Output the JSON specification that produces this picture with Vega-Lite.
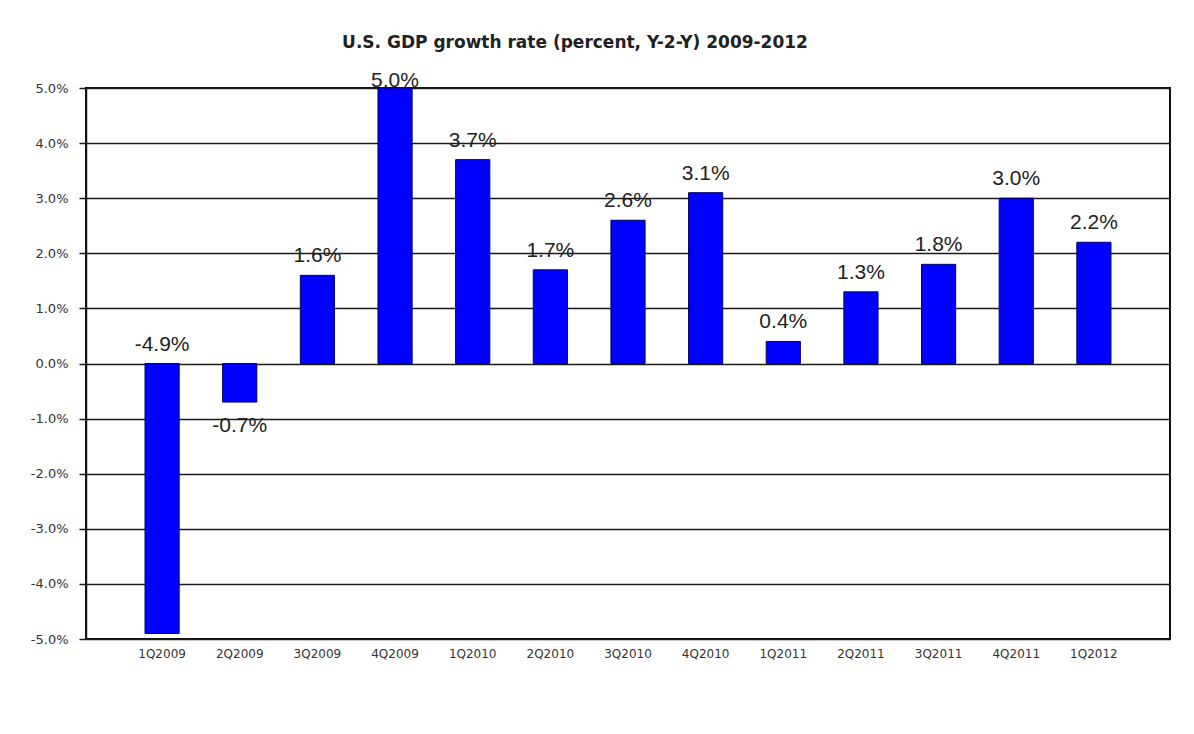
{
  "$schema": "https://vega.github.io/schema/vega-lite/v6.json",
  "autosize": "none",
  "padding": {"left": 86, "top": 88, "right": 24, "bottom": 95},
  "width": 1084,
  "height": 551,
  "background": "white",
  "title": {
    "text": "U.S. GDP growth rate (percent, Y-2-Y) 2009-2012",
    "font": "DejaVu Sans",
    "fontSize": 17,
    "fontWeight": "bold",
    "color": "#222222",
    "anchor": "middle",
    "dx": -53,
    "offset": 18
  },
  "data": {
    "values": [
      {"quarter": "1Q2009", "growth": -4.9},
      {"quarter": "2Q2009", "growth": -0.7},
      {"quarter": "3Q2009", "growth": 1.6},
      {"quarter": "4Q2009", "growth": 5.0},
      {"quarter": "1Q2010", "growth": 3.7},
      {"quarter": "2Q2010", "growth": 1.7},
      {"quarter": "3Q2010", "growth": 2.6},
      {"quarter": "4Q2010", "growth": 3.1},
      {"quarter": "1Q2011", "growth": 0.4},
      {"quarter": "2Q2011", "growth": 1.3},
      {"quarter": "3Q2011", "growth": 1.8},
      {"quarter": "4Q2011", "growth": 3.0},
      {"quarter": "1Q2012", "growth": 2.2}
    ]
  },
  "transform": [
    {"calculate": "replace(format(datum.growth, '.1f'), '\u2212', '-') + '%'", "as": "label"}
  ],
  "encoding": {
    "x": {
      "field": "quarter",
      "type": "nominal",
      "sort": null,
      "title": null,
      "scale": {"paddingInner": 0.56, "paddingOuter": 0.76},
      "axis": {
        "domain": false,
        "ticks": false,
        "labelAngle": 0,
        "labelFont": "DejaVu Sans",
        "labelFontSize": 12,
        "labelColor": "#333333",
        "labelPadding": 9
      }
    }
  },
  "layer": [
    {
      "mark": {"type": "bar", "color": "#0000FF", "stroke": "#000066", "strokeWidth": 1},
      "encoding": {
        "y": {
          "field": "growth",
          "type": "quantitative",
          "title": null,
          "scale": {"domain": [-5, 5], "nice": false},
          "axis": {
            "values": [-5, -4, -3, -2, -1, 0, 1, 2, 3, 4, 5],
            "labelExpr": "replace(format(datum.value, '.1f'), '\u2212', '-') + '%'",
            "grid": true,
            "gridColor": "#1a1a1a",
            "gridWidth": 1.5,
            "gridOpacity": 1,
            "domain": true,
            "domainColor": "#1a1a1a",
            "domainWidth": 1.5,
            "ticks": true,
            "tickSize": 7,
            "tickColor": "#1a1a1a",
            "tickWidth": 1.5,
            "labelFont": "DejaVu Sans",
            "labelFontSize": 13,
            "labelColor": "#333333",
            "labelPadding": 11
          }
        }
      }
    },
    {
      "transform": [{"filter": "datum.growth >= 0 && datum.growth < 4.5"}],
      "mark": {"type": "text", "font": "Liberation Sans", "fontSize": 21, "color": "#222222", "baseline": "alphabetic", "dy": -13},
      "encoding": {
        "y": {"field": "growth", "type": "quantitative"},
        "text": {"field": "label"}
      }
    },
    {
      "transform": [{"filter": "datum.growth >= 4.5"}],
      "mark": {"type": "text", "font": "Liberation Sans", "fontSize": 21, "color": "#222222", "baseline": "alphabetic", "dy": -1},
      "encoding": {
        "y": {"field": "growth", "type": "quantitative"},
        "text": {"field": "label"}
      }
    },
    {
      "transform": [{"filter": "datum.growth < 0 && datum.growth > -4"}],
      "mark": {"type": "text", "font": "Liberation Sans", "fontSize": 21, "color": "#222222", "baseline": "top", "dy": 13},
      "encoding": {
        "y": {"field": "growth", "type": "quantitative"},
        "text": {"field": "label"}
      }
    },
    {
      "transform": [{"filter": "datum.growth <= -4"}],
      "mark": {"type": "text", "font": "Liberation Sans", "fontSize": 21, "color": "#222222", "baseline": "alphabetic", "dy": -13},
      "encoding": {
        "y": {"datum": 0, "type": "quantitative"},
        "text": {"field": "label"}
      }
    }
  ],
  "config": {
    "view": {"stroke": "#111111", "strokeWidth": 2}
  }
}
